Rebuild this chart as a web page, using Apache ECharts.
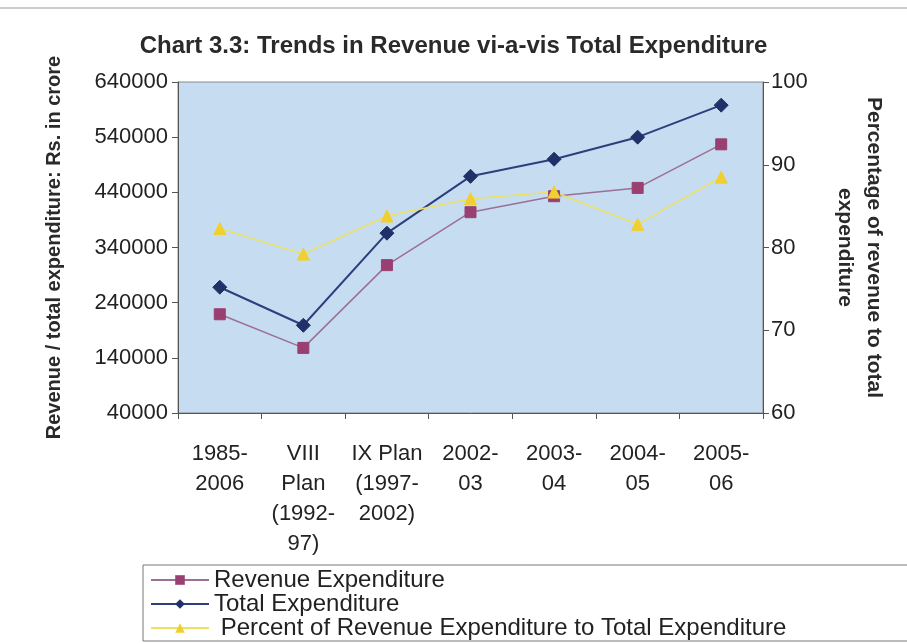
<!DOCTYPE html>
<html><head><meta charset="utf-8">
<script src="https://cdn.jsdelivr.net/npm/echarts@6/dist/echarts.min.js"></script>
<style>html,body{margin:0;padding:0;background:#fff}#c{width:907px;height:644px}</style>
</head><body><div id="c"></div>
<script>
const categories = ['1985-\n2006', 'VIII\nPlan\n(1992-\n97)', 'IX Plan\n(1997-\n2002)', '2002-\n03', '2003-\n04', '2004-\n05', '2005-\n06'];
const revenueExp = [219000, 158000, 308000, 404000, 433000, 448000, 527000];
const totalExp = [268000, 199000, 366000, 469000, 500000, 540000, 598000];
const percentRev = [82.3, 79.2, 83.8, 85.9, 86.7, 82.8, 88.5];
const leftTicks = {min: 40000, max: 640000, step: 100000};
const rightTicks = {min: 60, max: 100, step: 10};

const FF = '"Liberation Sans", Arial, sans-serif';
const chart = echarts.init(document.getElementById('c'), null, {renderer: 'canvas'});
chart.setOption({
  backgroundColor: '#fff',
  animation: false,
  textStyle: {fontFamily: FF},
  title: {
    text: 'Chart 3.3: Trends in Revenue vi-a-vis Total Expenditure',
    left: 'center', top: 29,
    textStyle: {fontFamily: FF, fontSize: 24, fontWeight: 'bold', color: '#2a2a2a'}
  },
  grid: {left: 178, right: 144, top: 82, bottom: 231, show: true, backgroundColor: '#c6dcf1', borderColor: '#888', borderWidth: 1},
  legend: {
    orient: 'vertical', left: 145, top: 563, height: 120, itemGap: 0, itemWidth: 58, itemHeight: 12,
    textStyle: {fontFamily: FF, fontSize: 24, color: '#222', lineHeight: 22},
    data: ['Revenue Expenditure', 'Total Expenditure', ' Percent of Revenue Expenditure to Total Expenditure']
  },
  graphic: [
    {type: 'rect', shape: {x: 143, y: 565, width: 770, height: 76}, style: {fill: 'none', stroke: '#777', lineWidth: 1}},
    {type: 'line', shape: {x1: 0, y1: 8, x2: 907, y2: 8}, style: {stroke: '#999', lineWidth: 1}}
  ],
  xAxis: {
    type: 'category', data: categories, boundaryGap: true,
    axisLine: {lineStyle: {color: '#555'}},
    axisTick: {show: true, length: 6, lineStyle: {color: '#555'}},
    axisLabel: {fontFamily: FF, fontSize: 22, color: '#222', lineHeight: 30, margin: 26, interval: 0}
  },
  yAxis: [{
    type: 'value', min: leftTicks.min, max: leftTicks.max, interval: leftTicks.step,
    name: 'Revenue / total expenditure: Rs. in crore', nameLocation: 'middle', nameGap: 114,
    nameTextStyle: {fontFamily: FF, fontSize: 20, fontWeight: 'bold', color: '#2a2a2a'},
    axisLine: {show: true, lineStyle: {color: '#555'}},
    axisTick: {show: true, length: 6, lineStyle: {color: '#555'}},
    splitLine: {show: false},
    axisLabel: {fontFamily: FF, fontSize: 22, color: '#222', margin: 10, formatter: v => String(v)}
  }, {
    type: 'value', position: 'right', min: rightTicks.min, max: rightTicks.max, interval: rightTicks.step,
    name: 'Percentage of revenue to total\nexpenditure', nameLocation: 'middle', nameGap: 67, nameRotate: -90,
    nameTextStyle: {fontFamily: FF, fontSize: 21, fontWeight: 'bold', color: '#2a2a2a', lineHeight: 29},
    axisLine: {show: true, lineStyle: {color: '#555'}},
    axisTick: {show: true, length: 6, lineStyle: {color: '#555'}},
    splitLine: {show: false},
    axisLabel: {fontFamily: FF, fontSize: 22, color: '#222', margin: 8}
  }],
  series: [{
    name: 'Revenue Expenditure', type: 'line', data: revenueExp, yAxisIndex: 0,
    symbol: 'rect', symbolSize: 11,
    lineStyle: {color: '#9c6f95', width: 1.5}, itemStyle: {color: '#9a3f72', borderColor: '#9a3f72'}
  }, {
    name: 'Total Expenditure', type: 'line', data: totalExp, yAxisIndex: 0,
    symbol: 'diamond', symbolSize: 14,
    lineStyle: {color: '#2c3f7c', width: 2}, itemStyle: {color: '#1f3168', borderColor: '#1f3168'}
  }, {
    name: ' Percent of Revenue Expenditure to Total Expenditure', type: 'line', data: percentRev, yAxisIndex: 1,
    symbol: 'triangle', symbolSize: 12,
    lineStyle: {color: '#eee060', width: 1.5}, itemStyle: {color: '#f0d030', borderColor: '#f0d030'}
  }]
});
</script></body></html>
